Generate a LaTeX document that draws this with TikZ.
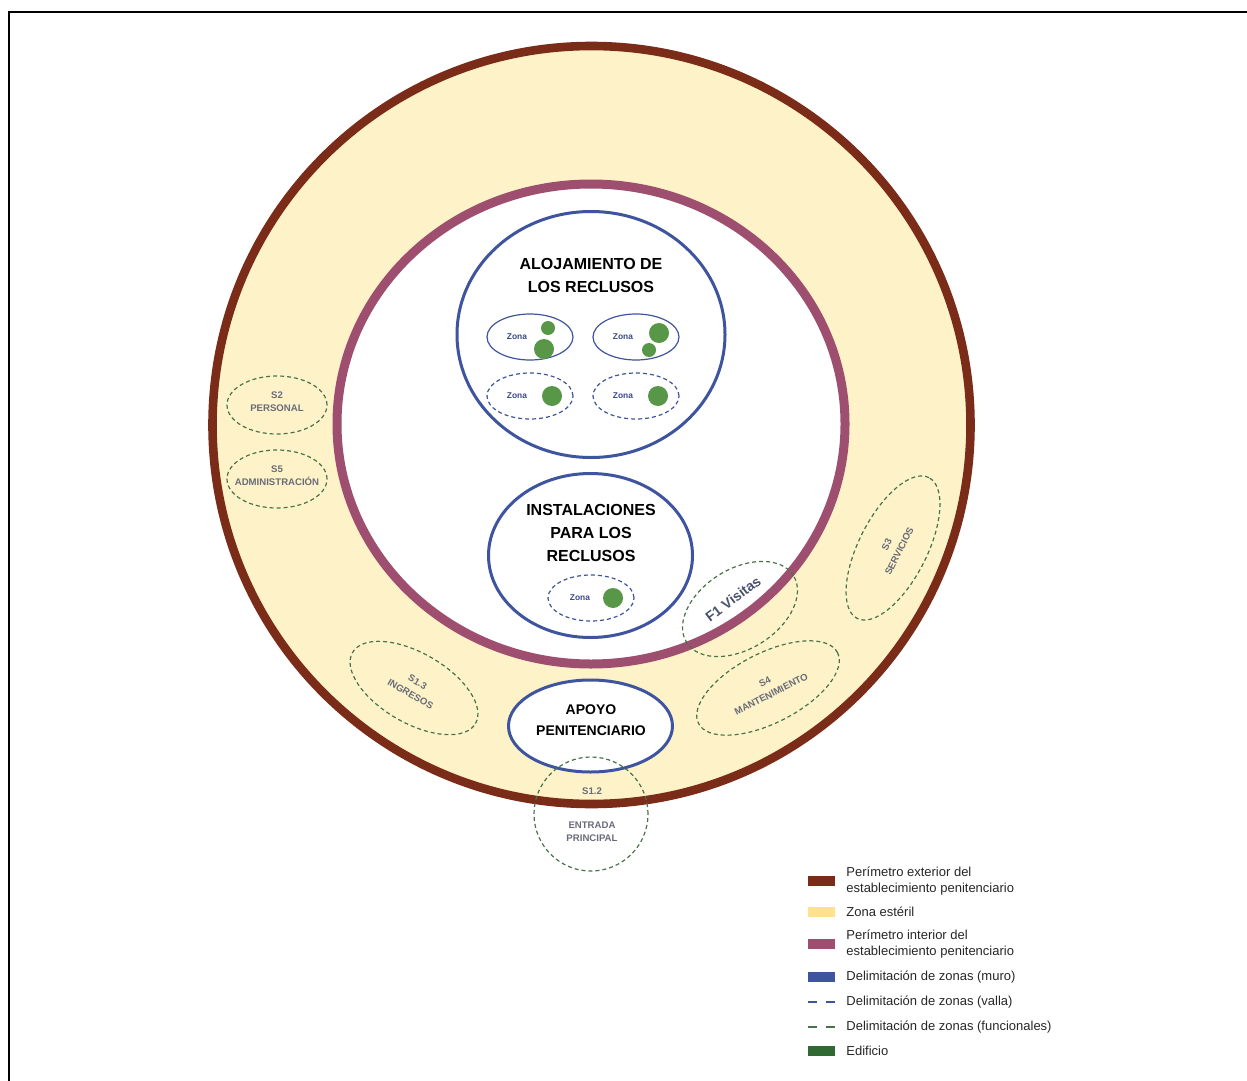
\documentclass[tikz,border=0pt]{standalone}
\usepackage{fontspec}
\setmainfont{Liberation Sans}
\usepackage{tikz}
\usetikzlibrary{shapes.geometric}
\definecolor{exterior}{RGB}{122,44,24}
\definecolor{esteril}{RGB}{254,242,200}
\definecolor{esterilleg}{RGB}{255,226,143}
\definecolor{interior}{RGB}{158,78,110}
\definecolor{muro}{RGB}{62,84,158}
\definecolor{funcional}{RGB}{72,115,72}
\definecolor{edificio}{RGB}{88,150,72}
\definecolor{edificioleg}{RGB}{48,105,50}
\definecolor{etiqueta}{RGB}{105,108,120}
\definecolor{zonatxt}{RGB}{60,72,140}
\definecolor{visitas}{RGB}{75,82,112}

\begin{document}
\begin{tikzpicture}[x=0.5pt, y=-0.5pt, every node/.style={inner sep=0pt, align=center}, titulo/.style={font=\fontsize{8}{11.5}\selectfont\bfseries}, muro/.style={ellipse, draw=muro, line width=1.5pt, fill=white}, zona/.style={ellipse, draw=muro, line width=0.6pt, minimum width=43pt, minimum height=23pt}, valla/.style={zona, dash pattern=on 2pt off 1.5pt}, zonalbl/.style={font=\fontsize{4.2}{5}\selectfont\bfseries, text=zonatxt}, func/.style={ellipse, draw=funcional, line width=0.6pt, dash pattern=on 2pt off 1.5pt, font=\fontsize{4.8}{7}\selectfont\bfseries, text=etiqueta}, funclbl/.style={font=\fontsize{4.8}{6.5}\selectfont\bfseries, text=etiqueta}, edif/.style={fill=edificio}, swatch/.style={minimum width=13.5pt, minimum height=5pt}, leyenda/.style={anchor=west, align=left, font=\fontsize{6.5}{7.6}\selectfont, text=black!85}]
\useasboundingbox (0,0) rectangle (1247,1081);
\draw[line width=1.25pt] (1247,12) -- (9,12) -- (9,1081);
\node[circle, draw=exterior, line width=4.3pt, fill=esteril, minimum size=379pt] (perext) at (591.5,425) {};
\node[ellipse, draw=interior, line width=4.5pt, fill=white, minimum width=254pt, minimum height=240pt] (perint) at (591,424) {};
\node[muro, minimum width=134pt, minimum height=123pt] (alojamiento) at (591,334.5) {};
\node[titulo] (alojtxt) at (591,275) {ALOJAMIENTO DE\\LOS RECLUSOS};
\foreach \i/\x/\y/\t in {1/530/337/zona,2/636/337/zona,3/530/396/valla,4/636/396/valla} {\node[\t] (z\i) at (\x,\y) {}; \node[zonalbl] (zt\i) at (\x-13,\y) {Zona};}
\node[muro, minimum width=102pt, minimum height=82pt] (instalaciones) at (590.5,555.5) {};
\node[titulo] (insttxt) at (591,533) {INSTALACIONES\\PARA LOS\\RECLUSOS};
\node[valla] (z5) at (591,598) {};
\node[zonalbl] (zt5) at (580,598) {Zona};
\foreach \x/\y/\r in {548/328/7, 544/349/10, 659/333/10, 649/350/7, 552/396/10, 658/396/10, 613/598/10} \fill[edif] (\x,\y) circle[radius=\r];
\node[muro, minimum width=82pt, minimum height=46pt] (apoyo) at (590.5,726) {};
\node[titulo, font=\fontsize{7}{10.5}\selectfont\bfseries] (apoyotxt) at (591,720) {APOYO\\PENITENCIARIO};
\foreach \n/\y/\t in {s2/405/{S2\\PERSONAL}, s5/479/{S5\\ADMINISTRACIÓN}} {\node[func, minimum width=50pt, minimum height=29pt] (\n) at (277,\y) {}; \node[funclbl] (\n-txt) at (277,\y-3) {\t};}
\node[func, rotate=-30, minimum width=71pt, minimum height=35pt] (s13) at (414,688) {S1.3\\INGRESOS};
\node[func, rotate=32, minimum width=63pt, minimum height=40pt] (f1) at (740,609) {};
\node[rotate=37, font=\fontsize{7}{8}\selectfont\bfseries, text=visitas] (f1txt) at (733,599) {F1 Visitas};
\node[func, rotate=63, minimum width=79pt, minimum height=34pt] (s3) at (893,548) {S3\\SERVICIOS};
\node[func, rotate=27, minimum width=78pt, minimum height=35pt] (s4) at (768,688) {S4\\MANTENIMIENTO};
\node[func, circle, minimum size=57pt] (s12) at (591,814) {};
\node[funclbl] (s12a) at (592,791) {S1.2};
\node[funclbl] (s12b) at (592,832) {ENTRADA\\PRINCIPAL};
\foreach \y/\c/\t in {881/exterior/{Perímetro exterior del\\establecimiento penitenciario}, 912/esterilleg/{Zona estéril}, 944/interior/{Perímetro interior del\\establecimiento penitenciario}, 977/muro/{Delimitación de zonas (muro)}, 1051/edificioleg/{Edificio}} {\node[swatch, fill=\c] (sw\y) at (821.5,\y) {}; \node[leyenda] (lg\y) at (846,\y) {\t};}
\foreach \y/\c/\t in {1002/muro/{Delimitación de zonas (valla)}, 1027/funcional/{Delimitación de zonas (funcionales)}} {\coordinate (a\y) at (808,\y); \coordinate (b\y) at (835,\y); \draw[\c, line width=1.3pt, dash pattern=on 4.5pt off 4.5pt] (a\y) -- (b\y); \node[leyenda] (lg\y) at (846,\y) {\t};}
\end{tikzpicture}
\end{document}
